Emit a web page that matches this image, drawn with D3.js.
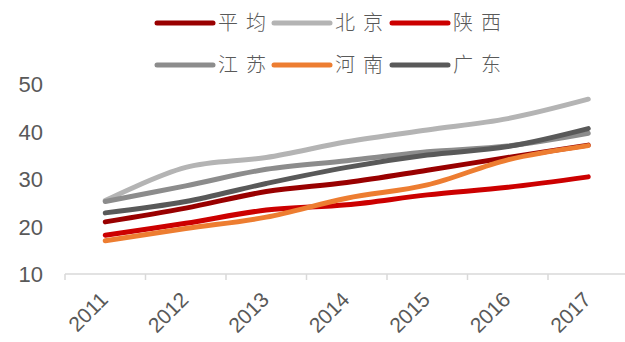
<!DOCTYPE html>
<html><head><meta charset="utf-8">
<script src="https://cdn.jsdelivr.net/npm/d3@7/dist/d3.min.js"></script>
<style>body{margin:0;background:#fff}svg{display:block}</style>
</head><body>
<svg id="c" width="625" height="342"></svg>
<script>
const years = ["2011","2012","2013","2014","2015","2016","2017"];
const seriesNames = ["平均","北京","陕西","江苏","河南","广东"];
const avg      = [21.0, 23.9, 27.4, 29.3, 31.9, 34.6, 37.2];
const beijing  = [25.5, 32.5, 34.6, 37.9, 40.4, 42.8, 46.9];
const shaanxi  = [18.2, 20.7, 23.5, 24.6, 26.7, 28.3, 30.5];
const jiangsu  = [25.3, 28.6, 32.1, 33.9, 35.8, 37.0, 39.7];
const henan    = [17.0, 19.6, 22.0, 26.0, 28.8, 34.1, 37.1];
const guangdong= [22.9, 25.3, 29.1, 32.5, 35.1, 36.9, 40.7];
const yTicks = [10, 20, 30, 40, 50];

const colors = ["#990000","#B4B4B4","#CC0000","#8C8C8C","#ED7D31","#595959"];
const values = [avg, beijing, shaanxi, jiangsu, henan, guangdong];
const series = seriesNames.map((n,i)=>({name:n, color:colors[i], values:values[i]}));
const drawOrder = [1,3,5,0,2,4];

const svg = d3.select("#c");
const x = d3.scaleBand().domain(years).range([65, 628.5]).padding(0);
const y = d3.scaleLinear().domain([10, 50]).range([274, 84.5]);

svg.append("g").selectAll("text").data(yTicks).join("text")
  .attr("x", 43).attr("y", d=>y(d)).attr("dy","0.36em")
  .attr("text-anchor","end").attr("fill","#595959")
  .style("font-family","Arial, 'Liberation Sans', sans-serif").style("font-size","22px")
  .text(d=>d);

const xa = svg.append("g").attr("transform","translate(0,274)")
  .call(d3.axisBottom(x).tickSize(0).tickFormat(""));
xa.select(".domain").attr("stroke","#D9D9D9").attr("stroke-width",1.5).attr("d","M65,0H625");
const bounds = years.map(d=>x(d));
xa.selectAll("line.bt").data(bounds).join("line").attr("class","bt")
  .attr("x1",d=>d).attr("x2",d=>d).attr("y1",0).attr("y2",6)
  .attr("stroke","#D9D9D9").attr("stroke-width",1.5);
svg.append("g").selectAll("text").data(years).join("text")
  .attr("transform", d=>`translate(${x(d)+x.bandwidth()/2+4},301) rotate(-45)`)
  .attr("text-anchor","end").attr("fill","#595959")
  .style("font-family","Arial, 'Liberation Sans', sans-serif").style("font-size","21px")
  .text(d=>d);

const line = d3.line()
  .x((d,i)=>x(years[i])+x.bandwidth()/2)
  .y(d=>y(d))
  .curve(d3.curveCatmullRom.alpha(0.5));
svg.append("g").selectAll("path").data(drawOrder.map(i=>series[i])).join("path")
  .attr("d", d=>line(d.values)).attr("fill","none")
  .attr("stroke", d=>d.color).attr("stroke-width",5)
  .attr("stroke-linecap","round").attr("stroke-linejoin","round");

const legX = [157, 274, 392];
const legY = [23, 65];
const leg = svg.append("g").selectAll("g").data(series).join("g")
  .attr("transform",(d,i)=>`translate(${legX[i%3]},${legY[Math.floor(i/3)]})`);
leg.append("line").attr("x1",0).attr("x2",56).attr("y1",0).attr("y2",0)
  .attr("stroke",d=>d.color).attr("stroke-width",5).attr("stroke-linecap","round");
leg.append("text").attr("x",61).attr("y",0).attr("dy","0.36em")
  .attr("fill","#595959")
  .style("font-family","'Noto Sans CJK SC', sans-serif").style("font-size","20px")
  .style("font-weight","300").style("letter-spacing","8px")
  .text(d=>d.name);
</script>
</body></html>
